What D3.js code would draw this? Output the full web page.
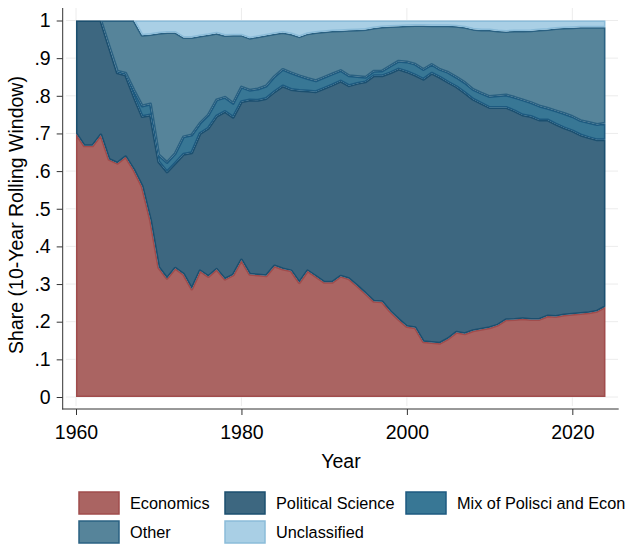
<!DOCTYPE html>
<html>
<head>
<meta charset="utf-8">
<script src="https://cdn.jsdelivr.net/npm/d3@7"></script>
<style>
body { margin: 0; background: #fff; }
svg text { font-family: "Liberation Sans", Arial, Helvetica, sans-serif; fill: #000; }
</style>
</head>
<body>
<script>
//values, share of each field per year
var years = [1960,1961,1962,1963,1964,1965,1966,1967,1968,1969,
    1970,1971,1972,1973,1974,1975,1976,1977,1978,1979,
    1980,1981,1982,1983,1984,1985,1986,1987,1988,1989,
    1990,1991,1992,1993,1994,1995,1996,1997,1998,1999,
    2000,2001,2002,2003,2004,2005,2006,2007,2008,2009,
    2010,2011,2012,2013,2014,2015,2016,2017,2018,2019,
    2020,2021,2022,2023,2024];

var economics = [.700,.667,.667,.696,.631,.621,.638,.603,.559,.470,
    .344,.315,.342,.326,.287,.335,.320,.339,.313,.324,
    .364,.326,.324,.322,.348,.340,.335,.304,.335,.320,
    .305,.305,.321,.314,.295,.275,.254,.253,.227,.206,
    .187,.184,.147,.145,.143,.155,.172,.168,.176,.180,
    .184,.191,.205,.206,.208,.206,.206,.215,.214,.218,
    .220,.222,.224,.228,.240];

var politicalScience = [.300,.333,.333,.304,.299,.240,.217,.195,.186,.279,
    .281,.283,.279,.319,.362,.365,.394,.407,.445,.419,
    .420,.463,.464,.471,.463,.486,.482,.510,.478,.491,
    .515,.524,.518,.513,.538,.562,.599,.600,.634,.665,
    .677,.671,.697,.715,.706,.681,.652,.640,.615,.600,
    .585,.578,.564,.554,.541,.539,.530,.521,.511,.497,
    .487,.474,.465,.455,.443];

var mixPolisciEcon = [0,0,0,0,.002,.004,.005,.017,.028,.029,
    .018,.025,.026,.046,.047,.027,.035,.043,.038,.037,
    .039,.026,.030,.033,.040,.044,.044,.039,.033,.029,
    .029,.029,.028,.026,.018,.012,.012,.013,.018,.021,
    .026,.029,.026,.023,.021,.026,.025,.027,.026,.027,
    .029,.031,.033,.036,.040,.037,.037,.031,.035,.038,
    .038,.038,.040,.041,.044];

var other = [0,0,0,0,.068,.135,.140,.185,.188,.185,
    .323,.345,.321,.264,.259,.232,.213,.177,.164,.181,
    .138,.138,.139,.135,.114,.098,.103,.104,.119,.128,
    .121,.114,.106,.121,.124,.127,.115,.117,.105,.093,
    .096,.103,.117,.103,.116,.124,.136,.147,.160,.168,
    .177,.172,.169,.176,.183,.191,.202,.209,.219,.227,
    .236,.248,.253,.258,.255];

var unclassified = [0,0,0,0,0,0,0,0,.039,.037,
    .034,.032,.032,.045,.045,.041,.038,.034,.040,.039,
    .039,.047,.043,.039,.035,.032,.036,.043,.035,.032,
    .030,.028,.027,.026,.025,.024,.020,.017,.016,.015,
    .014,.013,.013,.014,.014,.014,.015,.018,.023,.025,
    .025,.028,.029,.028,.028,.027,.025,.024,.021,.020,
    .019,.018,.018,.018,.018];

var seriesNames = ['Economics', 'Political Science', 'Mix of Polisci and Econ', 'Other', 'Unclassified'];
var seriesValues = [economics, politicalScience, mixPolisciEcon, other, unclassified];
var fillColors = ['#aa6462', '#3d6780', '#387795', '#56849a', '#a9cfe5'];
var lineColors = ['#a04c4c', '#1b4f6f', '#1d5a80', '#2a6182', '#8bbcd9'];

var xTicks = [1960, 1980, 2000, 2020];
var yTicks = [0, .1, .2, .3, .4, .5, .6, .7, .8, .9, 1];
var yTickLabels = ['0', '.1', '.2', '.3', '.4', '.5', '.6', '.7', '.8', '.9', '1'];

var width = 631, height = 549;

var svg = d3.select('body').append('svg')
    .attr('width', width)
    .attr('height', height);

var x = d3.scaleLinear().domain([1960, 2024]).range([76, 605.4]);
var y = d3.scaleLinear().domain([0, 1]).range([397, 20.5]);

//table for d3.stack
var rows = years.map(function(yr, i) {
    var row = { year: yr };
    seriesNames.forEach(function(name, k) {
        row[name] = seriesValues[k][i];
    });
    return row;
});

var stacked = d3.stack().keys(seriesNames)(rows);

//light grid
var grid = svg.append('g');
grid.selectAll('.hgrid')
    .data(yTicks)
    .enter()
    .append('line')
    .attr('x1', 66).attr('x2', 618)
    .attr('y1', function(d) { return y(d); })
    .attr('y2', function(d) { return y(d); })
    .attr('stroke', '#ececec')
    .attr('stroke-width', 1);
grid.selectAll('.vgrid')
    .data(xTicks)
    .enter()
    .append('line')
    .attr('x1', function(d) { return x(d); })
    .attr('x2', function(d) { return x(d); })
    .attr('y1', 8).attr('y2', 406)
    .attr('stroke', '#ececec')
    .attr('stroke-width', 1);

var area = d3.area()
    .x(function(d) { return x(d.data.year); })
    .y0(function(d) { return y(d[0]); })
    .y1(function(d) { return y(d[1]); });

//each band clipped to itself so the outline sits inside it
var defs = svg.append('defs');
defs.selectAll('clipPath')
    .data(stacked)
    .enter()
    .append('clipPath')
    .attr('id', function(d, i) { return 'band' + i; })
    .append('path')
    .attr('d', area);

svg.append('g').selectAll('path')
    .data(stacked)
    .enter()
    .append('path')
    .attr('d', area)
    .attr('clip-path', function(d, i) { return 'url(#band' + i + ')'; })
    .attr('fill', function(d, i) { return fillColors[i]; })
    .attr('stroke', function(d, i) { return lineColors[i]; })
    .attr('stroke-width', 3)
    .attr('stroke-linejoin', 'round');

//axes
var yAxis = svg.append('g')
    .attr('transform', 'translate(62.7,0)')
    .call(d3.axisLeft(y).tickValues(yTicks)
        .tickFormat(function(d, i) { return yTickLabels[i]; })
        .tickSize(6).tickPadding(6));

var xAxis = svg.append('g')
    .attr('transform', 'translate(0,409)')
    .call(d3.axisBottom(x).tickValues(xTicks)
        .tickFormat(d3.format('d'))
        .tickSize(6).tickPadding(10));

[yAxis, xAxis].forEach(function(g) {
    g.select('.domain').remove();
    g.selectAll('line').attr('stroke', '#333');
    g.selectAll('text').attr('font-size', '19.5px').attr('fill', '#000');
});

svg.append('line')
    .attr('x1', 62.7).attr('x2', 62.7)
    .attr('y1', 8).attr('y2', 409.5)
    .attr('stroke', '#333');
svg.append('line')
    .attr('x1', 62.2).attr('x2', 618.7)
    .attr('y1', 409).attr('y2', 409)
    .attr('stroke', '#333');

svg.append('text')
    .attr('transform', 'translate(22.5,215) rotate(-90)')
    .attr('text-anchor', 'middle')
    .attr('font-size', '19.5px')
    .text('Share (10-Year Rolling Window)');

svg.append('text')
    .attr('x', 341).attr('y', 468)
    .attr('text-anchor', 'middle')
    .attr('font-size', '19.5px')
    .text('Year');

//legend, 3 columns
var legendCols = [79, 225, 406];
var legendRows = [503, 532];
var legend = svg.append('g').selectAll('g')
    .data(seriesNames)
    .enter()
    .append('g')
    .attr('transform', function(d, i) {
        return 'translate(' + legendCols[i % 3] + ',' + legendRows[Math.floor(i / 3)] + ')';
    });

legend.append('rect')
    .attr('x', 0).attr('y', -11)
    .attr('width', 40).attr('height', 22)
    .attr('fill', function(d, i) { return fillColors[i]; })
    .attr('stroke', function(d, i) { return lineColors[i]; })
    .attr('stroke-width', 1.5);

legend.append('text')
    .attr('x', 51).attr('y', 0)
    .attr('dy', '0.35em')
    .attr('font-size', '16.3px')
    .text(function(d) { return d; });
</script>
</body>
</html>
